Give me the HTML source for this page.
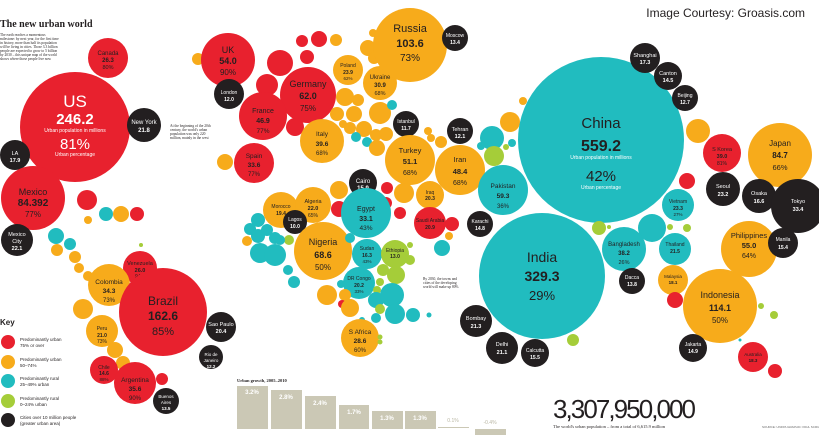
<!DOCTYPE html>
<html><head><meta charset="utf-8"><style>
html,body{margin:0;padding:0;background:#fff;width:819px;height:435px;overflow:hidden}
svg{display:block;font-family:"Liberation Sans",sans-serif}
</style></head><body>
<svg width="819" height="435" viewBox="0 0 819 435" xmlns="http://www.w3.org/2000/svg">
<defs><style>
.r{fill:#e8212e}.o{fill:#f7ab1b}.t{fill:#21bcbf}.g{fill:#a5cd39}.k{fill:#231f20}
text{text-anchor:middle}
.dk{fill:#231f20}.wh{fill:#fff}
</style></defs>
<text x="0" y="27" style="text-anchor:start;font-family:'Liberation Serif',serif;font-weight:bold;font-size:10px" class="dk">The new urban world</text>
<g style="text-anchor:start;font-family:'Liberation Serif',serif;font-size:3.6px" class="dk">
<text x="0" y="36" style="text-anchor:start">The earth reaches a momentous</text>
<text x="0" y="40" style="text-anchor:start">milestone: by next year, for the first time</text>
<text x="0" y="44" style="text-anchor:start">in history, more than half its population</text>
<text x="0" y="48" style="text-anchor:start">will be living in cities. Those 3.3 billion</text>
<text x="0" y="52" style="text-anchor:start">people are expected to grow to 5 billion</text>
<text x="0" y="56" style="text-anchor:start">by 2030 – this unique map of the world</text>
<text x="0" y="60" style="text-anchor:start">shows where those people live now</text>
</g>
<text x="805" y="17" style="text-anchor:end;font-size:12px" class="dk">Image Courtesy: Groasis.com</text>

<!-- Americas -->
<circle class="r" cx="75" cy="127" r="55"/>
<text x="75" y="107" class="wh" font-size="17">US</text>
<text x="75" y="124" class="wh" font-size="15" font-weight="bold">246.2</text>
<text x="75" y="132" class="wh" font-size="5">Urban population in millions</text>
<text x="75" y="149" class="wh" font-size="15">81%</text>
<text x="75" y="156" class="wh" font-size="5">Urban percentage</text>
<circle class="r" cx="108" cy="58" r="20"/>
<text x="108" y="55" class="dk" font-size="6">Canada</text><text x="108" y="62" class="dk" font-size="6" font-weight="bold">26.3</text><text x="108" y="69" class="dk" font-size="5.5">80%</text>
<circle class="k" cx="144" cy="125" r="17"/>
<text x="144" y="124" class="wh" font-size="6">New York</text><text x="144" y="132" class="wh" font-size="6" font-weight="bold">21.8</text>
<circle class="k" cx="15" cy="155" r="15"/>
<text x="15" y="155" class="wh" font-size="5.5">LA</text><text x="15" y="162" class="wh" font-size="5.5" font-weight="bold">17.9</text>
<circle class="r" cx="33" cy="198" r="32"/>
<text x="33" y="195" class="dk" font-size="9">Mexico</text><text x="33" y="206" class="dk" font-size="10" font-weight="bold">84.392</text><text x="33" y="217" class="dk" font-size="8">77%</text>
<circle class="k" cx="17" cy="240" r="16"/>
<text x="17" y="236" class="wh" font-size="5.5">Mexico</text><text x="17" y="243" class="wh" font-size="5.5">City</text><text x="17" y="250" class="wh" font-size="5.5" font-weight="bold">22.1</text>
<circle class="r" cx="87" cy="200" r="10"/>
<circle class="t" cx="106" cy="214" r="7"/><circle class="o" cx="121" cy="214" r="8"/><circle class="r" cx="137" cy="214" r="7"/>
<circle class="o" cx="88" cy="220" r="4"/>
<circle class="t" cx="56" cy="236" r="8"/><circle class="t" cx="70" cy="244" r="6"/><circle class="o" cx="57" cy="250" r="6"/>
<circle class="o" cx="75" cy="257" r="6"/><circle class="o" cx="79" cy="268" r="5"/><circle class="o" cx="88" cy="276" r="5"/>
<circle class="g" cx="141" cy="245" r="2"/>
<circle class="r" cx="140" cy="268" r="17"/>
<text x="140" y="265" class="dk" font-size="5.5">Venezuela</text><text x="140" y="272" class="dk" font-size="5.5" font-weight="bold">26.0</text><text x="140" y="278" class="dk" font-size="5">94%</text>
<circle class="o" cx="109" cy="285" r="21"/>
<text x="109" y="284" class="dk" font-size="6.5">Colombia</text><text x="109" y="293" class="dk" font-size="6.5" font-weight="bold">34.3</text><text x="109" y="302" class="dk" font-size="6">73%</text>
<circle class="o" cx="83" cy="309" r="10"/>
<circle class="o" cx="102" cy="331" r="16"/>
<text x="102" y="330" class="dk" font-size="5">Peru</text><text x="102" y="337" class="dk" font-size="5" font-weight="bold">21.0</text><text x="102" y="343" class="dk" font-size="5">73%</text>
<circle class="o" cx="115" cy="350" r="8"/><circle class="o" cx="123" cy="363" r="7"/>
<circle class="r" cx="163" cy="312" r="44"/>
<text x="163" y="305" class="dk" font-size="12">Brazil</text><text x="163" y="320" class="dk" font-size="12" font-weight="bold">162.6</text><text x="163" y="335" class="dk" font-size="11">85%</text>
<circle class="k" cx="221" cy="327" r="15"/>
<text x="221" y="326" class="wh" font-size="5.5">Sao Paulo</text><text x="221" y="333" class="wh" font-size="5.5" font-weight="bold">20.4</text>
<circle class="k" cx="211" cy="357" r="12"/>
<text x="211" y="356" class="wh" font-size="4.5">Rio de</text><text x="211" y="362" class="wh" font-size="4.5">Janeiro</text><text x="211" y="368" class="wh" font-size="4.5" font-weight="bold">12.2</text>
<circle class="r" cx="104" cy="370" r="14"/>
<text x="104" y="369" class="dk" font-size="5">Chile</text><text x="104" y="375" class="dk" font-size="5" font-weight="bold">14.6</text><text x="104" y="381" class="dk" font-size="4.5">88%</text>
<circle class="r" cx="135" cy="383" r="21"/>
<text x="135" y="382" class="dk" font-size="6.5">Argentina</text><text x="135" y="391" class="dk" font-size="6.5" font-weight="bold">35.6</text><text x="135" y="400" class="dk" font-size="6">90%</text>
<circle class="r" cx="162" cy="379" r="6"/>
<circle class="k" cx="166" cy="401" r="13"/>
<text x="166" y="398" class="wh" font-size="4.5">Buenos</text><text x="166" y="404" class="wh" font-size="4.5">Aires</text><text x="166" y="410" class="wh" font-size="4.5" font-weight="bold">13.5</text>

<!-- Key -->
<text x="0" y="325" style="text-anchor:start;font-weight:bold;font-size:8px" class="dk">Key</text>
<circle class="r" cx="8" cy="342" r="7"/><circle class="o" cx="8" cy="362" r="7"/><circle class="t" cx="8" cy="381" r="7"/><circle class="g" cx="8" cy="401" r="7"/><circle class="k" cx="8" cy="420" r="7"/>
<g font-size="4.5" class="dk">
<text x="20" y="341" style="text-anchor:start">Predominantly urban</text><text x="20" y="347" style="text-anchor:start">75% or over</text>
<text x="20" y="361" style="text-anchor:start">Predominantly urban</text><text x="20" y="367" style="text-anchor:start">50–74%</text>
<text x="20" y="380" style="text-anchor:start">Predominantly rural</text><text x="20" y="386" style="text-anchor:start">25–49% urban</text>
<text x="20" y="400" style="text-anchor:start">Predominantly rural</text><text x="20" y="406" style="text-anchor:start">0–24% urban</text>
<text x="20" y="419" style="text-anchor:start">Cities over 10 million people</text><text x="20" y="425" style="text-anchor:start">(greater urban area)</text>
</g>

<!-- Europe -->
<circle class="o" cx="198" cy="59" r="6"/>
<circle class="r" cx="228" cy="60" r="27"/>
<text x="228" y="53" class="dk" font-size="9">UK</text><text x="228" y="64" class="dk" font-size="9" font-weight="bold">54.0</text><text x="228" y="75" class="dk" font-size="8">90%</text>
<circle class="k" cx="229" cy="94" r="15"/>
<text x="229" y="94" class="wh" font-size="5">London</text><text x="229" y="101" class="wh" font-size="5" font-weight="bold">12.0</text>
<circle class="r" cx="280" cy="63" r="13"/><circle class="r" cx="267" cy="85" r="11"/>
<circle class="r" cx="302" cy="41" r="6"/><circle class="r" cx="319" cy="39" r="8"/><circle class="o" cx="336" cy="40" r="6"/><circle class="r" cx="307" cy="57" r="7"/>
<circle class="r" cx="308" cy="95" r="28"/>
<text x="308" y="87" class="dk" font-size="9">Germany</text><text x="308" y="99" class="dk" font-size="9" font-weight="bold">62.0</text><text x="308" y="111" class="dk" font-size="8">75%</text>
<circle class="r" cx="263" cy="116" r="24"/>
<text x="263" y="113" class="dk" font-size="7">France</text><text x="263" y="123" class="dk" font-size="7" font-weight="bold">46.9</text><text x="263" y="133" class="dk" font-size="6.5">77%</text>
<circle class="r" cx="295" cy="127" r="9"/>
<circle class="o" cx="225" cy="162" r="8"/>
<circle class="r" cx="254" cy="163" r="20"/>
<text x="254" y="158" class="dk" font-size="6.5">Spain</text><text x="254" y="167" class="dk" font-size="6.5" font-weight="bold">33.6</text><text x="254" y="176" class="dk" font-size="6">77%</text>
<circle class="o" cx="322" cy="141" r="22"/>
<text x="322" y="136" class="dk" font-size="6.5">Italy</text><text x="322" y="146" class="dk" font-size="6.5" font-weight="bold">39.6</text><text x="322" y="155" class="dk" font-size="6">68%</text>
<circle class="o" cx="348" cy="70" r="15"/>
<text x="348" y="67" class="dk" font-size="5">Poland</text><text x="348" y="74" class="dk" font-size="5" font-weight="bold">23.9</text><text x="348" y="80" class="dk" font-size="4.5">62%</text>
<circle class="o" cx="380" cy="83" r="17"/>
<text x="380" y="79" class="dk" font-size="6">Ukraine</text><text x="380" y="87" class="dk" font-size="6" font-weight="bold">30.9</text><text x="380" y="95" class="dk" font-size="5.5">68%</text>
<circle class="o" cx="345" cy="97" r="9"/><circle class="o" cx="358" cy="100" r="6"/><circle class="o" cx="337" cy="114" r="7"/><circle class="o" cx="354" cy="114" r="8"/>
<circle class="o" cx="380" cy="113" r="11"/><circle class="t" cx="392" cy="105" r="5"/><circle class="o" cx="343" cy="124" r="4"/>
<circle class="o" cx="350" cy="128" r="6"/><circle class="o" cx="364" cy="129" r="8"/><circle class="t" cx="356" cy="137" r="5"/><circle class="o" cx="376" cy="135" r="6"/><circle class="o" cx="386" cy="134" r="7"/><circle class="t" cx="367" cy="142" r="5"/><circle class="o" cx="377" cy="148" r="8"/>
<circle class="o" cx="368" cy="48" r="8"/><circle class="o" cx="374" cy="58" r="6"/><circle class="o" cx="383" cy="39" r="5"/><circle class="o" cx="378" cy="45" r="4"/><circle class="o" cx="373" cy="33" r="4"/>
<circle class="o" cx="410" cy="45" r="37"/>
<text x="410" y="32" class="dk" font-size="11">Russia</text><text x="410" y="47" class="dk" font-size="11" font-weight="bold">103.6</text><text x="410" y="61" class="dk" font-size="10">73%</text>
<circle class="k" cx="455" cy="38" r="13"/>
<text x="455" y="37" class="wh" font-size="5">Moscow</text><text x="455" y="44" class="wh" font-size="5" font-weight="bold">13.4</text>
<circle class="k" cx="406" cy="124" r="13"/>
<text x="406" y="123" class="wh" font-size="5">Istanbul</text><text x="406" y="130" class="wh" font-size="5" font-weight="bold">11.7</text>
<circle class="o" cx="410" cy="160" r="25"/>
<text x="410" y="153" class="dk" font-size="7.5">Turkey</text><text x="410" y="164" class="dk" font-size="7.5" font-weight="bold">51.1</text><text x="410" y="175" class="dk" font-size="7">68%</text>
<text x="170" y="127" style="text-anchor:start;font-family:'Liberation Serif',serif" font-size="3.6" class="dk">At the beginning of the 20th</text>
<text x="170" y="131" style="text-anchor:start;font-family:'Liberation Serif',serif" font-size="3.6" class="dk">century, the world's urban</text>
<text x="170" y="135" style="text-anchor:start;font-family:'Liberation Serif',serif" font-size="3.6" class="dk">population was only 220</text>
<text x="170" y="139" style="text-anchor:start;font-family:'Liberation Serif',serif" font-size="3.6" class="dk">million, mainly in the west</text>

<!-- Middle East / Africa -->
<circle class="k" cx="363" cy="183" r="14"/>
<text x="363" y="183" class="wh" font-size="6">Cairo</text><text x="363" y="190" class="wh" font-size="6" font-weight="bold">15.9</text>
<circle class="r" cx="387" cy="188" r="6"/><circle class="o" cx="404" cy="193" r="10"/><circle class="r" cx="386" cy="203" r="6"/><circle class="r" cx="400" cy="213" r="6"/>
<circle class="o" cx="430" cy="195" r="14"/>
<text x="430" y="194" class="dk" font-size="5">Iraq</text><text x="430" y="200" class="dk" font-size="5" font-weight="bold">20.3</text>
<circle class="k" cx="460" cy="131" r="13"/>
<text x="460" y="131" class="wh" font-size="5.5">Tehran</text><text x="460" y="138" class="wh" font-size="5.5" font-weight="bold">12.1</text>
<circle class="o" cx="460" cy="170" r="25"/>
<text x="460" y="162" class="dk" font-size="7.5">Iran</text><text x="460" y="174" class="dk" font-size="7.5" font-weight="bold">48.4</text><text x="460" y="185" class="dk" font-size="7">68%</text>
<circle class="o" cx="428" cy="131" r="4"/><circle class="o" cx="431" cy="138" r="4"/><circle class="o" cx="441" cy="142" r="6"/>
<circle class="t" cx="492" cy="138" r="12"/><circle class="g" cx="494" cy="156" r="10"/><circle class="t" cx="481" cy="146" r="4"/><circle class="g" cx="506" cy="147" r="3"/><circle class="t" cx="512" cy="143" r="4"/>
<circle class="o" cx="510" cy="122" r="10"/><circle class="o" cx="523" cy="101" r="4"/>
<circle class="r" cx="430" cy="223" r="16"/>
<text x="430" y="222" class="dk" font-size="5">Saudi Arabia</text><text x="430" y="229" class="dk" font-size="5" font-weight="bold">20.9</text>
<circle class="r" cx="452" cy="224" r="7"/><circle class="o" cx="449" cy="236" r="4"/><circle class="t" cx="442" cy="248" r="8"/>
<circle class="k" cx="480" cy="224" r="13"/>
<text x="480" y="223" class="wh" font-size="5">Karachi</text><text x="480" y="230" class="wh" font-size="5" font-weight="bold">14.8</text>
<circle class="o" cx="281" cy="210" r="18"/>
<text x="281" y="208" class="dk" font-size="5">Morocco</text><text x="281" y="215" class="dk" font-size="5" font-weight="bold">19.4</text>
<circle class="o" cx="313" cy="205" r="18"/>
<text x="313" y="203" class="dk" font-size="5.5">Algeria</text><text x="313" y="210" class="dk" font-size="5.5" font-weight="bold">22.0</text><text x="313" y="217" class="dk" font-size="5">65%</text>
<circle class="o" cx="339" cy="190" r="9"/><circle class="r" cx="339" cy="209" r="8"/>
<circle class="t" cx="366" cy="213" r="25"/>
<text x="366" y="211" class="dk" font-size="7">Egypt</text><text x="366" y="221" class="dk" font-size="7" font-weight="bold">33.1</text><text x="366" y="230" class="dk" font-size="6.5">43%</text>
<circle class="t" cx="258" cy="220" r="7"/><circle class="t" cx="250" cy="229" r="6"/><circle class="t" cx="258" cy="236" r="7"/><circle class="o" cx="247" cy="241" r="5"/><circle class="t" cx="267" cy="230" r="6"/><circle class="t" cx="275" cy="238" r="6"/>
<circle class="t" cx="260" cy="253" r="10"/><circle class="t" cx="275" cy="255" r="11"/><circle class="g" cx="289" cy="240" r="5"/><circle class="t" cx="288" cy="270" r="5"/><circle class="t" cx="294" cy="282" r="6"/><circle class="t" cx="280" cy="240" r="5"/>
<circle class="k" cx="295" cy="222" r="12"/>
<text x="295" y="221" class="wh" font-size="5">Lagos</text><text x="295" y="228" class="wh" font-size="5" font-weight="bold">10.0</text>
<circle class="o" cx="323" cy="251" r="29"/>
<text x="323" y="245" class="dk" font-size="9">Nigeria</text><text x="323" y="258" class="dk" font-size="9" font-weight="bold">68.6</text><text x="323" y="270" class="dk" font-size="8">50%</text>
<circle class="t" cx="367" cy="254" r="15"/>
<text x="367" y="250" class="dk" font-size="5">Sudan</text><text x="367" y="257" class="dk" font-size="5" font-weight="bold">16.3</text><text x="367" y="263" class="dk" font-size="4.5">43%</text>
<circle class="t" cx="350" cy="238" r="5"/>
<circle class="g" cx="395" cy="254" r="14"/>
<text x="395" y="252" class="dk" font-size="5">Ethiopia</text><text x="395" y="258" class="dk" font-size="5" font-weight="bold">13.0</text>
<circle class="g" cx="410" cy="245" r="3"/><circle class="g" cx="410" cy="260" r="5"/>
<circle class="t" cx="359" cy="283" r="16"/>
<text x="359" y="280" class="dk" font-size="5">DR Congo</text><text x="359" y="287" class="dk" font-size="5" font-weight="bold">20.2</text><text x="359" y="293" class="dk" font-size="4.5">33%</text>
<circle class="g" cx="383" cy="270" r="6"/><circle class="g" cx="396" cy="275" r="9"/><circle class="g" cx="380" cy="282" r="4"/><circle class="g" cx="377" cy="290" r="4"/>
<circle class="t" cx="376" cy="300" r="8"/><circle class="t" cx="392" cy="295" r="12"/><circle class="g" cx="380" cy="309" r="5"/><circle class="t" cx="395" cy="314" r="10"/><circle class="t" cx="376" cy="318" r="5"/>
<circle class="t" cx="341" cy="284" r="4"/><circle class="o" cx="327" cy="295" r="10"/><circle class="o" cx="345" cy="295" r="6"/><circle class="r" cx="342" cy="304" r="4"/><circle class="o" cx="350" cy="308" r="9"/><circle class="t" cx="362" cy="320" r="3"/>
<circle class="t" cx="413" cy="315" r="7"/><circle class="t" cx="429" cy="315" r="2.5"/>
<circle class="o" cx="360" cy="338" r="19"/>
<text x="360" y="334" class="dk" font-size="6.5">S Africa</text><text x="360" y="343" class="dk" font-size="6.5" font-weight="bold">28.6</text><text x="360" y="352" class="dk" font-size="6">60%</text>
<circle class="g" cx="380" cy="337" r="2.5"/><circle class="g" cx="380" cy="342" r="2.5"/>

<!-- Asia -->
<circle class="t" cx="601" cy="140" r="83"/>
<text x="601" y="128" class="dk" font-size="15">China</text>
<text x="601" y="151" class="dk" font-size="16" font-weight="bold">559.2</text>
<text x="601" y="159" class="wh" font-size="5">Urban population in millions</text>
<text x="601" y="181" class="dk" font-size="15">42%</text>
<text x="601" y="189" class="wh" font-size="5">Urban percentage</text>
<circle class="k" cx="645" cy="58" r="15"/>
<text x="645" y="57" class="wh" font-size="5.5">Shanghai</text><text x="645" y="64" class="wh" font-size="5.5" font-weight="bold">17.3</text>
<circle class="k" cx="668" cy="76" r="14"/>
<text x="668" y="75" class="wh" font-size="5.5">Canton</text><text x="668" y="82" class="wh" font-size="5.5" font-weight="bold">14.5</text>
<circle class="k" cx="685" cy="98" r="13"/>
<text x="685" y="97" class="wh" font-size="5">Beijing</text><text x="685" y="104" class="wh" font-size="5" font-weight="bold">12.7</text>
<circle class="o" cx="698" cy="131" r="12"/>
<circle class="r" cx="722" cy="153" r="19"/>
<text x="722" y="151" class="dk" font-size="5.5">S Korea</text><text x="722" y="158" class="dk" font-size="5.5" font-weight="bold">39.0</text><text x="722" y="165" class="dk" font-size="5">81%</text>
<circle class="o" cx="780" cy="155" r="32"/>
<text x="780" y="146" class="dk" font-size="8">Japan</text><text x="780" y="158" class="dk" font-size="8" font-weight="bold">84.7</text><text x="780" y="170" class="dk" font-size="7.5">66%</text>
<circle class="k" cx="723" cy="189" r="17"/>
<text x="723" y="188" class="wh" font-size="5.5">Seoul</text><text x="723" y="196" class="wh" font-size="5.5" font-weight="bold">23.2</text>
<circle class="k" cx="759" cy="196" r="17"/>
<text x="759" y="195" class="wh" font-size="5.5">Osaka</text><text x="759" y="203" class="wh" font-size="5.5" font-weight="bold">16.6</text>
<circle class="k" cx="798" cy="206" r="27"/>
<text x="798" y="203" class="wh" font-size="5.5">Tokyo</text><text x="798" y="211" class="wh" font-size="5.5" font-weight="bold">33.4</text>
<circle class="r" cx="687" cy="181" r="8"/>
<circle class="t" cx="678" cy="205" r="16"/>
<text x="678" y="203" class="dk" font-size="5">Vietnam</text><text x="678" y="210" class="dk" font-size="5" font-weight="bold">23.3</text><text x="678" y="216" class="dk" font-size="4.5">27%</text>
<circle class="t" cx="503" cy="190" r="25"/>
<text x="503" y="188" class="dk" font-size="6.5">Pakistan</text><text x="503" y="198" class="dk" font-size="6.5" font-weight="bold">59.3</text><text x="503" y="208" class="dk" font-size="6">36%</text>
<circle class="t" cx="542" cy="276" r="63"/>
<text x="542" y="262" class="dk" font-size="14">India</text><text x="542" y="281" class="dk" font-size="14" font-weight="bold">329.3</text><text x="542" y="300" class="dk" font-size="13">29%</text>
<circle class="g" cx="599" cy="228" r="7"/><circle class="g" cx="609" cy="227" r="2"/>
<circle class="t" cx="652" cy="228" r="14"/><circle class="g" cx="670" cy="227" r="3"/><circle class="g" cx="687" cy="228" r="4"/>
<circle class="t" cx="624" cy="249" r="22"/>
<text x="624" y="246" class="dk" font-size="6">Bangladesh</text><text x="624" y="255" class="dk" font-size="6" font-weight="bold">38.2</text><text x="624" y="264" class="dk" font-size="5.5">26%</text>
<circle class="t" cx="675" cy="249" r="16"/>
<text x="675" y="246" class="dk" font-size="5">Thailand</text><text x="675" y="253" class="dk" font-size="5" font-weight="bold">21.5</text>
<circle class="k" cx="632" cy="281" r="13"/>
<text x="632" y="279" class="wh" font-size="5">Dacca</text><text x="632" y="286" class="wh" font-size="5" font-weight="bold">13.8</text>
<circle class="o" cx="673" cy="280" r="15"/>
<text x="673" y="278" class="dk" font-size="4.5">Malaysia</text><text x="673" y="284" class="dk" font-size="4.5" font-weight="bold">18.1</text>
<circle class="r" cx="675" cy="300" r="8"/>
<circle class="o" cx="749" cy="249" r="28"/>
<text x="749" y="238" class="dk" font-size="7.5">Philippines</text><text x="749" y="248" class="dk" font-size="7.5" font-weight="bold">55.0</text><text x="749" y="258" class="dk" font-size="7">64%</text>
<circle class="k" cx="783" cy="243" r="15"/>
<text x="783" y="241" class="wh" font-size="5">Manila</text><text x="783" y="249" class="wh" font-size="5" font-weight="bold">15.4</text>
<circle class="o" cx="720" cy="306" r="37"/>
<text x="720" y="298" class="dk" font-size="9">Indonesia</text><text x="720" y="311" class="dk" font-size="9" font-weight="bold">114.1</text><text x="720" y="323" class="dk" font-size="8">50%</text>
<circle class="g" cx="761" cy="306" r="3"/><circle class="g" cx="774" cy="315" r="4"/><circle class="t" cx="740" cy="340" r="1.5"/>
<circle class="k" cx="693" cy="348" r="14"/>
<text x="693" y="346" class="wh" font-size="5">Jakarta</text><text x="693" y="353" class="wh" font-size="5" font-weight="bold">14.9</text>
<circle class="r" cx="753" cy="357" r="15"/>
<text x="753" y="356" class="dk" font-size="4.5">Australia</text><text x="753" y="362" class="dk" font-size="4.5" font-weight="bold">18.3</text>
<circle class="r" cx="775" cy="371" r="7"/>
<circle class="k" cx="476" cy="321" r="16"/>
<text x="476" y="320" class="wh" font-size="5.5">Bombay</text><text x="476" y="328" class="wh" font-size="5.5" font-weight="bold">21.3</text>
<circle class="k" cx="502" cy="348" r="16"/>
<text x="502" y="346" class="wh" font-size="5.5">Delhi</text><text x="502" y="354" class="wh" font-size="5.5" font-weight="bold">21.1</text>
<circle class="k" cx="535" cy="353" r="14"/>
<text x="535" y="352" class="wh" font-size="5">Calcutta</text><text x="535" y="359" class="wh" font-size="5" font-weight="bold">15.5</text>
<circle class="g" cx="573" cy="340" r="6"/>
<text x="423" y="280" style="text-anchor:start;font-family:'Liberation Serif',serif" font-size="3.6" class="dk">By 2030, the towns and</text>
<text x="423" y="284" style="text-anchor:start;font-family:'Liberation Serif',serif" font-size="3.6" class="dk">cities of the developing</text>
<text x="423" y="288" style="text-anchor:start;font-family:'Liberation Serif',serif" font-size="3.6" class="dk">world will make up 80%</text>

<!-- Bar chart -->
<text x="237" y="382" style="text-anchor:start;font-weight:bold;font-family:'Liberation Serif',serif" font-size="4.5" class="dk">Urban growth, 2005–2010</text>
<g fill="#cbc8b5">
<rect x="237" y="386" width="31" height="43"/><rect x="271" y="390" width="31" height="39"/><rect x="305" y="396" width="31" height="33"/><rect x="339" y="405" width="30" height="24"/><rect x="372" y="411" width="31" height="18"/><rect x="405" y="411" width="31" height="18"/><rect x="438" y="427" width="31" height="1"/><rect x="475" y="429" width="31" height="6"/>
</g>
<g font-size="6" font-weight="bold" fill="#fff">
<text x="252" y="394">3.2%</text><text x="286" y="399">2.8%</text><text x="320" y="405">2.4%</text><text x="354" y="414">1.7%</text><text x="387" y="420">1.3%</text><text x="420" y="420">1.3%</text>
</g>
<g font-size="5" fill="#b9b6a3"><text x="453" y="422">0.1%</text><text x="490" y="424">-0.4%</text></g>

<text x="553" y="418" style="text-anchor:start;font-family:'Liberation Sans',sans-serif" font-size="26" class="dk" textLength="143">3,307,950,000</text>
<text x="553" y="428" style="text-anchor:start;font-family:'Liberation Serif',serif" font-size="4.5" class="dk">The world's urban population – from a total of 6,615.9 million</text>
<text x="762" y="428" style="text-anchor:start" font-size="3" fill="#666">SOURCE: UNFPA   GRAPHIC: PAUL SCRUTON</text>
</svg>
</body></html>
